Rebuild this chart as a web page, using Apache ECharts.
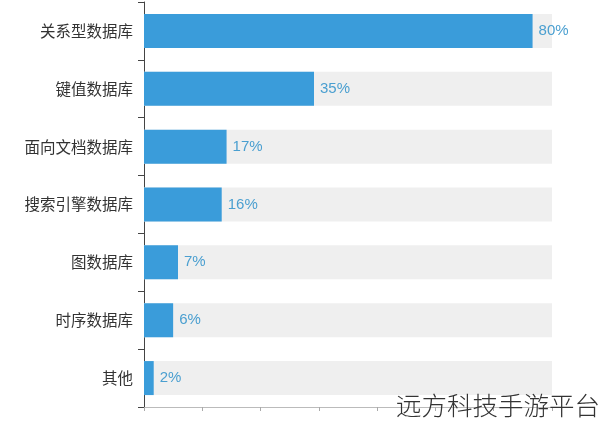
<!DOCTYPE html>
<html>
<head>
<meta charset="utf-8">
<script src="https://cdn.jsdelivr.net/npm/echarts@6/dist/echarts.min.js"></script>
<style>html,body{margin:0;padding:0;background:#fff}#c{width:600px;height:427px}</style>
</head>
<body>
<div id="c"></div>
<script>
var categories = ['关系型数据库', '键值数据库', '面向文档数据库', '搜索引擎数据库', '图数据库', '时序数据库', '其他'];
var values = [80, 35, 17, 16, 7, 6, 2];
var axisMax = 84;
var axisInterval = 12;
var watermark = '远方科技手游平台';

var chart = echarts.init(document.getElementById('c'), null, {renderer: 'canvas'});
chart.setOption({
  animation: false,
  backgroundColor: '#ffffff',
  grid: {left: 144, right: 48, top: 2, bottom: 20, containLabel: false},
  xAxis: {
    type: 'value', min: 0, max: axisMax, interval: axisInterval,
    axisLine: {show: true, lineStyle: {color: '#bbbbbb', width: 1}},
    axisTick: {show: true, length: 4, lineStyle: {color: '#aaaaaa'}},
    axisLabel: {show: false},
    splitLine: {show: false}
  },
  yAxis: {
    type: 'category', data: categories, inverse: true,
    axisLine: {show: true, lineStyle: {color: '#444444', width: 1}},
    axisTick: {show: true, length: 6, lineStyle: {color: '#444444'}},
    axisLabel: {color: '#333333', fontSize: 15.5, margin: 11, fontFamily: 'Noto Sans CJK SC'}
  },
  series: [{
    type: 'bar', data: values, barWidth: 34,
    itemStyle: {color: '#3a9cda'},
    showBackground: true,
    backgroundStyle: {color: '#efefef'},
    label: {show: true, position: 'right', distance: 6, formatter: '{c}%', color: '#4a9fd0', fontSize: 15, fontFamily: 'Liberation Sans'}
  }],
  graphic: [{
    type: 'text', right: 0, top: 393, z: 100,
    style: {text: watermark, fill: '#333333', font: '300 25.5px "Noto Sans CJK SC"'}
  }]
});
</script>
</body>
</html>
